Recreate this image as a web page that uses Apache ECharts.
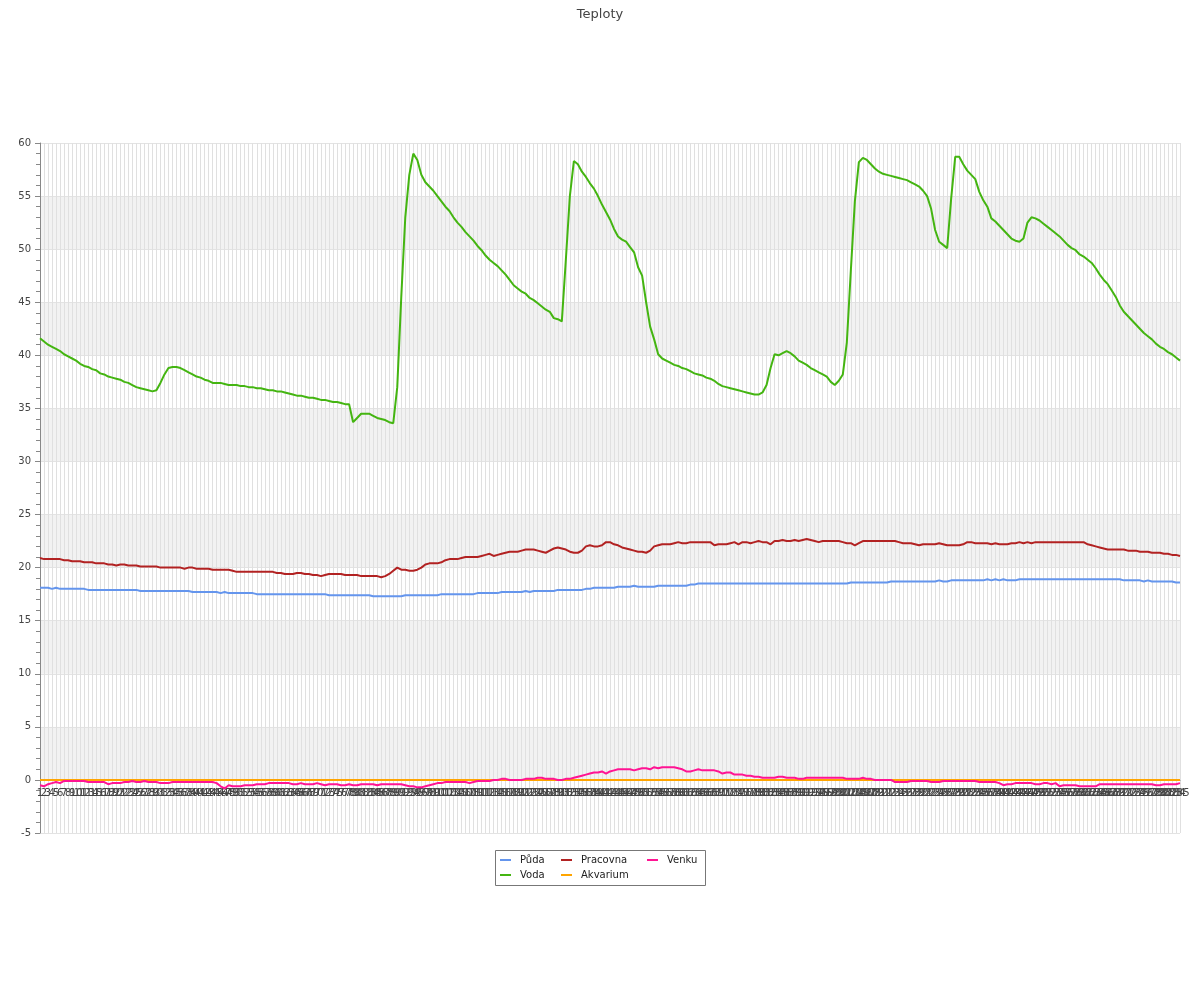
<!DOCTYPE html>
<html>
<head>
<meta charset="utf-8">
<script src="https://cdn.jsdelivr.net/npm/echarts@6/dist/echarts.min.js"></script>
<style>html,body{margin:0;padding:0;background:#fff}#c{width:1200px;height:1000px}</style>
</head>
<body>
<div id="c"></div>
<script>
var categories = [];
for (var k = 1; k <= 285; k++) categories.push(String(k));

var puda = [
18.1,18.1,18.1,18.0,18.1,18.0,18.0,18.0,18.0,18.0,
18.0,18.0,17.9,17.9,17.9,17.9,17.9,17.9,17.9,17.9,
17.9,17.9,17.9,17.9,17.9,17.8,17.8,17.8,17.8,17.8,
17.8,17.8,17.8,17.8,17.8,17.8,17.8,17.8,17.7,17.7,
17.7,17.7,17.7,17.7,17.7,17.6,17.7,17.6,17.6,17.6,
17.6,17.6,17.6,17.6,17.5,17.5,17.5,17.5,17.5,17.5,
17.5,17.5,17.5,17.5,17.5,17.5,17.5,17.5,17.5,17.5,
17.5,17.5,17.4,17.4,17.4,17.4,17.4,17.4,17.4,17.4,
17.4,17.4,17.4,17.3,17.3,17.3,17.3,17.3,17.3,17.3,
17.3,17.4,17.4,17.4,17.4,17.4,17.4,17.4,17.4,17.4,
17.5,17.5,17.5,17.5,17.5,17.5,17.5,17.5,17.5,17.6,
17.6,17.6,17.6,17.6,17.6,17.7,17.7,17.7,17.7,17.7,
17.7,17.8,17.7,17.8,17.8,17.8,17.8,17.8,17.8,17.9,
17.9,17.9,17.9,17.9,17.9,17.9,18.0,18.0,18.1,18.1,
18.1,18.1,18.1,18.1,18.2,18.2,18.2,18.2,18.3,18.2,
18.2,18.2,18.2,18.2,18.3,18.3,18.3,18.3,18.3,18.3,
18.3,18.3,18.4,18.4,18.5,18.5,18.5,18.5,18.5,18.5,
18.5,18.5,18.5,18.5,18.5,18.5,18.5,18.5,18.5,18.5,
18.5,18.5,18.5,18.5,18.5,18.5,18.5,18.5,18.5,18.5,
18.5,18.5,18.5,18.5,18.5,18.5,18.5,18.5,18.5,18.5,
18.5,18.5,18.6,18.6,18.6,18.6,18.6,18.6,18.6,18.6,
18.6,18.6,18.7,18.7,18.7,18.7,18.7,18.7,18.7,18.7,
18.7,18.7,18.7,18.7,18.8,18.7,18.7,18.8,18.8,18.8,
18.8,18.8,18.8,18.8,18.8,18.8,18.9,18.8,18.9,18.8,
18.9,18.8,18.8,18.8,18.9,18.9,18.9,18.9,18.9,18.9,
18.9,18.9,18.9,18.9,18.9,18.9,18.9,18.9,18.9,18.9,
18.9,18.9,18.9,18.9,18.9,18.9,18.9,18.9,18.9,18.9,
18.8,18.8,18.8,18.8,18.8,18.7,18.8,18.7,18.7,18.7,
18.7,18.7,18.7,18.6,18.6
];

var voda = [
41.6,41.3,41.0,40.8,40.6,40.4,40.1,39.9,39.7,39.5,
39.2,39.0,38.9,38.7,38.6,38.3,38.2,38.0,37.9,37.8,
37.7,37.5,37.4,37.2,37.0,36.9,36.8,36.7,36.6,36.7,
37.4,38.2,38.8,38.9,38.9,38.8,38.6,38.4,38.2,38.0,
37.9,37.7,37.6,37.4,37.4,37.4,37.3,37.2,37.2,37.2,
37.1,37.1,37.0,37.0,36.9,36.9,36.8,36.7,36.7,36.6,
36.6,36.5,36.4,36.3,36.2,36.2,36.1,36.0,36.0,35.9,
35.8,35.8,35.7,35.6,35.6,35.5,35.4,35.4,33.7,34.1,
34.5,34.5,34.5,34.3,34.1,34.0,33.9,33.7,33.6,37.0,
45.5,53.0,57.0,59.0,58.4,57.0,56.3,55.9,55.5,55.0,
54.5,54.0,53.6,53.0,52.5,52.1,51.6,51.2,50.8,50.3,
49.9,49.4,49.0,48.7,48.4,48.0,47.6,47.1,46.6,46.3,
46.0,45.8,45.4,45.2,44.9,44.6,44.3,44.1,43.5,43.4,
43.2,49.0,55.0,58.3,58.0,57.3,56.8,56.2,55.7,55.0,
54.2,53.5,52.8,51.9,51.2,50.9,50.7,50.2,49.7,48.3,
47.5,45.0,42.7,41.5,40.1,39.7,39.5,39.3,39.1,39.0,
38.8,38.7,38.5,38.3,38.2,38.1,37.9,37.8,37.6,37.3,
37.1,37.0,36.9,36.8,36.7,36.6,36.5,36.4,36.3,36.3,
36.5,37.2,38.8,40.1,40.0,40.2,40.4,40.2,39.9,39.5,
39.3,39.1,38.8,38.6,38.4,38.2,38.0,37.5,37.2,37.6,
38.2,41.2,48.0,54.5,58.2,58.6,58.4,58.0,57.6,57.3,
57.1,57.0,56.9,56.8,56.7,56.6,56.5,56.3,56.1,55.9,
55.5,55.0,53.8,51.8,50.7,50.4,50.1,54.8,58.7,58.7,
58.0,57.4,57.0,56.6,55.4,54.6,54.0,52.9,52.6,52.2,
51.8,51.4,51.0,50.8,50.7,51.0,52.5,53.0,52.9,52.7,
52.4,52.1,51.8,51.5,51.2,50.8,50.4,50.1,49.9,49.5,
49.3,49.0,48.7,48.2,47.6,47.1,46.7,46.1,45.5,44.7,
44.1,43.7,43.3,42.9,42.5,42.1,41.8,41.5,41.1,40.8,
40.6,40.3,40.1,39.8,39.5
];

var pracovna = [
20.9,20.8,20.8,20.8,20.8,20.8,20.7,20.7,20.6,20.6,
20.6,20.5,20.5,20.5,20.4,20.4,20.4,20.3,20.3,20.2,
20.3,20.3,20.2,20.2,20.2,20.1,20.1,20.1,20.1,20.1,
20.0,20.0,20.0,20.0,20.0,20.0,19.9,20.0,20.0,19.9,
19.9,19.9,19.9,19.8,19.8,19.8,19.8,19.8,19.7,19.6,
19.6,19.6,19.6,19.6,19.6,19.6,19.6,19.6,19.6,19.5,
19.5,19.4,19.4,19.4,19.5,19.5,19.4,19.4,19.3,19.3,
19.2,19.3,19.4,19.4,19.4,19.4,19.3,19.3,19.3,19.3,
19.2,19.2,19.2,19.2,19.2,19.1,19.2,19.4,19.7,20.0,
19.8,19.8,19.7,19.7,19.8,20.0,20.3,20.4,20.4,20.4,
20.5,20.7,20.8,20.8,20.8,20.9,21.0,21.0,21.0,21.0,
21.1,21.2,21.3,21.1,21.2,21.3,21.4,21.5,21.5,21.5,
21.6,21.7,21.7,21.7,21.6,21.5,21.4,21.6,21.8,21.9,
21.8,21.7,21.5,21.4,21.4,21.6,22.0,22.1,22.0,22.0,
22.1,22.4,22.4,22.2,22.1,21.9,21.8,21.7,21.6,21.5,
21.5,21.4,21.6,22.0,22.1,22.2,22.2,22.2,22.3,22.4,
22.3,22.3,22.4,22.4,22.4,22.4,22.4,22.4,22.1,22.2,
22.2,22.2,22.3,22.4,22.2,22.4,22.4,22.3,22.4,22.5,
22.4,22.4,22.2,22.5,22.5,22.6,22.5,22.5,22.6,22.5,
22.6,22.7,22.6,22.5,22.4,22.5,22.5,22.5,22.5,22.5,
22.4,22.3,22.3,22.1,22.3,22.5,22.5,22.5,22.5,22.5,
22.5,22.5,22.5,22.5,22.4,22.3,22.3,22.3,22.2,22.1,
22.2,22.2,22.2,22.2,22.3,22.2,22.1,22.1,22.1,22.1,
22.2,22.4,22.4,22.3,22.3,22.3,22.3,22.2,22.3,22.2,
22.2,22.2,22.3,22.3,22.4,22.3,22.4,22.3,22.4,22.4,
22.4,22.4,22.4,22.4,22.4,22.4,22.4,22.4,22.4,22.4,
22.4,22.2,22.1,22.0,21.9,21.8,21.7,21.7,21.7,21.7,
21.7,21.6,21.6,21.6,21.5,21.5,21.5,21.4,21.4,21.4,
21.3,21.3,21.2,21.2,21.1
];

var akvarium = [
0,0,0,0,0,0,0,0,0,0,0,0,0,0,0,0,0,0,0,0,0,0,0,0,0,0,0,0,0,0,
0,0,0,0,0,0,0,0,0,0,0,0,0,0,0,0,0,0,0,0,0,0,0,0,0,0,0,0,0,0,
0,0,0,0,0,0,0,0,0,0,0,0,0,0,0,0,0,0,0,0,0,0,0,0,0,0,0,0,0,0,
0,0,0,0,0,0,0,0,0,0,0,0,0,0,0,0,0,0,0,0,0,0,0,0,0,0,0,0,0,0,
0,0,0,0,0,0,0,0,0,0,0,0,0,0,0,0,0,0,0,0,0,0,0,0,0,0,0,0,0,0,
0,0,0,0,0,0,0,0,0,0,0,0,0,0,0,0,0,0,0,0,0,0,0,0,0,0,0,0,0,0,
0,0,0,0,0,0,0,0,0,0,0,0,0,0,0,0,0,0,0,0,0,0,0,0,0,0,0,0,0,0,
0,0,0,0,0,0,0,0,0,0,0,0,0,0,0,0,0,0,0,0,0,0,0,0,0,0,0,0,0,0,
0,0,0,0,0,0,0,0,0,0,0,0,0,0,0,0,0,0,0,0,0,0,0,0,0,0,0,0,0,0,
0,0,0,0,0,0,0,0,0,0,0,0,0,0,0
];

var venku = [
-0.5,-0.6,-0.4,-0.3,-0.2,-0.3,-0.1,-0.1,-0.1,-0.1,
-0.1,-0.1,-0.2,-0.2,-0.2,-0.2,-0.2,-0.4,-0.3,-0.3,
-0.3,-0.2,-0.2,-0.1,-0.2,-0.2,-0.1,-0.2,-0.2,-0.2,
-0.3,-0.3,-0.3,-0.2,-0.2,-0.2,-0.2,-0.2,-0.2,-0.2,
-0.2,-0.2,-0.2,-0.2,-0.3,-0.6,-0.8,-0.5,-0.6,-0.6,
-0.6,-0.5,-0.5,-0.5,-0.4,-0.4,-0.4,-0.3,-0.3,-0.3,
-0.3,-0.3,-0.3,-0.4,-0.4,-0.3,-0.4,-0.4,-0.4,-0.3,
-0.4,-0.5,-0.4,-0.4,-0.4,-0.5,-0.5,-0.4,-0.5,-0.5,
-0.4,-0.4,-0.4,-0.4,-0.5,-0.4,-0.4,-0.4,-0.4,-0.4,
-0.4,-0.5,-0.6,-0.6,-0.7,-0.7,-0.6,-0.5,-0.4,-0.3,
-0.3,-0.2,-0.2,-0.2,-0.2,-0.2,-0.2,-0.3,-0.2,-0.1,
-0.1,-0.1,-0.1,0.0,0.0,0.1,0.1,0.0,0.0,0.0,
0.0,0.1,0.1,0.1,0.2,0.2,0.1,0.1,0.1,0.0,
0.0,0.1,0.1,0.2,0.3,0.4,0.5,0.6,0.7,0.7,
0.8,0.6,0.8,0.9,1.0,1.0,1.0,1.0,0.9,1.0,
1.1,1.1,1.0,1.2,1.1,1.2,1.2,1.2,1.2,1.1,
1.0,0.8,0.8,0.9,1.0,0.9,0.9,0.9,0.9,0.8,
0.6,0.7,0.7,0.5,0.5,0.5,0.4,0.4,0.3,0.3,
0.2,0.2,0.2,0.2,0.3,0.3,0.2,0.2,0.2,0.1,
0.1,0.2,0.2,0.2,0.2,0.2,0.2,0.2,0.2,0.2,
0.2,0.1,0.1,0.1,0.1,0.2,0.1,0.1,0.0,0.0,
0.0,0.0,0.0,-0.2,-0.2,-0.2,-0.2,-0.1,-0.1,-0.1,
-0.1,-0.1,-0.2,-0.2,-0.2,-0.1,-0.1,-0.1,-0.1,-0.1,
-0.1,-0.1,-0.1,-0.1,-0.2,-0.2,-0.2,-0.2,-0.2,-0.3,
-0.5,-0.4,-0.4,-0.3,-0.3,-0.3,-0.3,-0.3,-0.4,-0.4,
-0.3,-0.3,-0.4,-0.3,-0.6,-0.5,-0.5,-0.5,-0.5,-0.6,
-0.6,-0.6,-0.6,-0.6,-0.4,-0.4,-0.4,-0.4,-0.4,-0.4,
-0.4,-0.4,-0.4,-0.4,-0.4,-0.4,-0.4,-0.4,-0.5,-0.5,
-0.4,-0.4,-0.4,-0.4,-0.3
];

var seriesNames = ['Půda', 'Voda', 'Pracovna', 'Akvarium', 'Venku'];
var seriesColors = ['#6495ED', '#44B511', '#B22222', '#FFA500', '#FF1493'];
var seriesData = [puda, voda, pracovna, akvarium, venku];

var chart = echarts.init(document.getElementById('c'));
var FONT = 'DejaVu Sans';
function legendBlock(names, left) {
  return {
    data: names, orient: 'vertical', left: left, top: 853.5,
    itemWidth: 11, itemHeight: 2, icon: 'rect', itemGap: 2,
    padding: 0, selectedMode: false,
    textStyle: { fontFamily: FONT, fontSize: 10, lineHeight: 13, color: '#222', padding: [0, 0, 0, 4] }
  };
}
var option = {
  animation: false,
  backgroundColor: '#fff',
  color: seriesColors,
  title: {
    text: 'Teploty', left: 'center', top: 3,
    textStyle: { fontFamily: FONT, fontSize: 13, fontWeight: 'normal', color: '#444' }
  },
  legend: [
    legendBlock(['Půda', 'Voda'], 500),
    legendBlock(['Pracovna', 'Akvarium'], 561),
    legendBlock(['Venku'], 647)
  ],
  graphic: [{
    type: 'rect', z: -1,
    shape: { x: 495.5, y: 850.5, width: 210, height: 35 },
    style: { fill: 'none', stroke: '#777', lineWidth: 1 }
  }],
  grid: { left: 40, right: 20, top: 143, bottom: 167, containLabel: false },
  xAxis: {
    type: 'category', data: categories, boundaryGap: false,
    offset: -53.1,
    axisLine: { onZero: false, lineStyle: { color: '#888' } },
    axisTick: { show: false },
    axisLabel: { interval: 0, fontFamily: FONT, fontSize: 10, color: '#444', margin: 9 },
    splitLine: { show: true, interval: 0, lineStyle: { color: '#e0e0e0', width: 1 } }
  },
  yAxis: {
    type: 'value', min: -5, max: 60, interval: 5,
    axisLine: { show: true, lineStyle: { color: '#888' } },
    axisTick: { show: true, length: 5, lineStyle: { color: '#888' } },
    minorTick: { show: true, splitNumber: 5, length: 4, lineStyle: { color: '#888' } },
    axisLabel: { fontFamily: FONT, fontSize: 10, color: '#444', margin: 9 },
    splitLine: { show: true, lineStyle: { color: '#e3e3e3' } },
    splitArea: { show: true, areaStyle: { color: ['#ffffff', '#f2f2f2'] } }
  },
  series: seriesNames.map(function (n, i) {
    return {
      name: n, type: 'line', data: seriesData[i],
      showSymbol: false, symbol: 'none',
      lineStyle: { width: 2, color: seriesColors[i] },
      itemStyle: { color: seriesColors[i] }
    };
  })
};
chart.setOption(option);
</script>
</body>
</html>
